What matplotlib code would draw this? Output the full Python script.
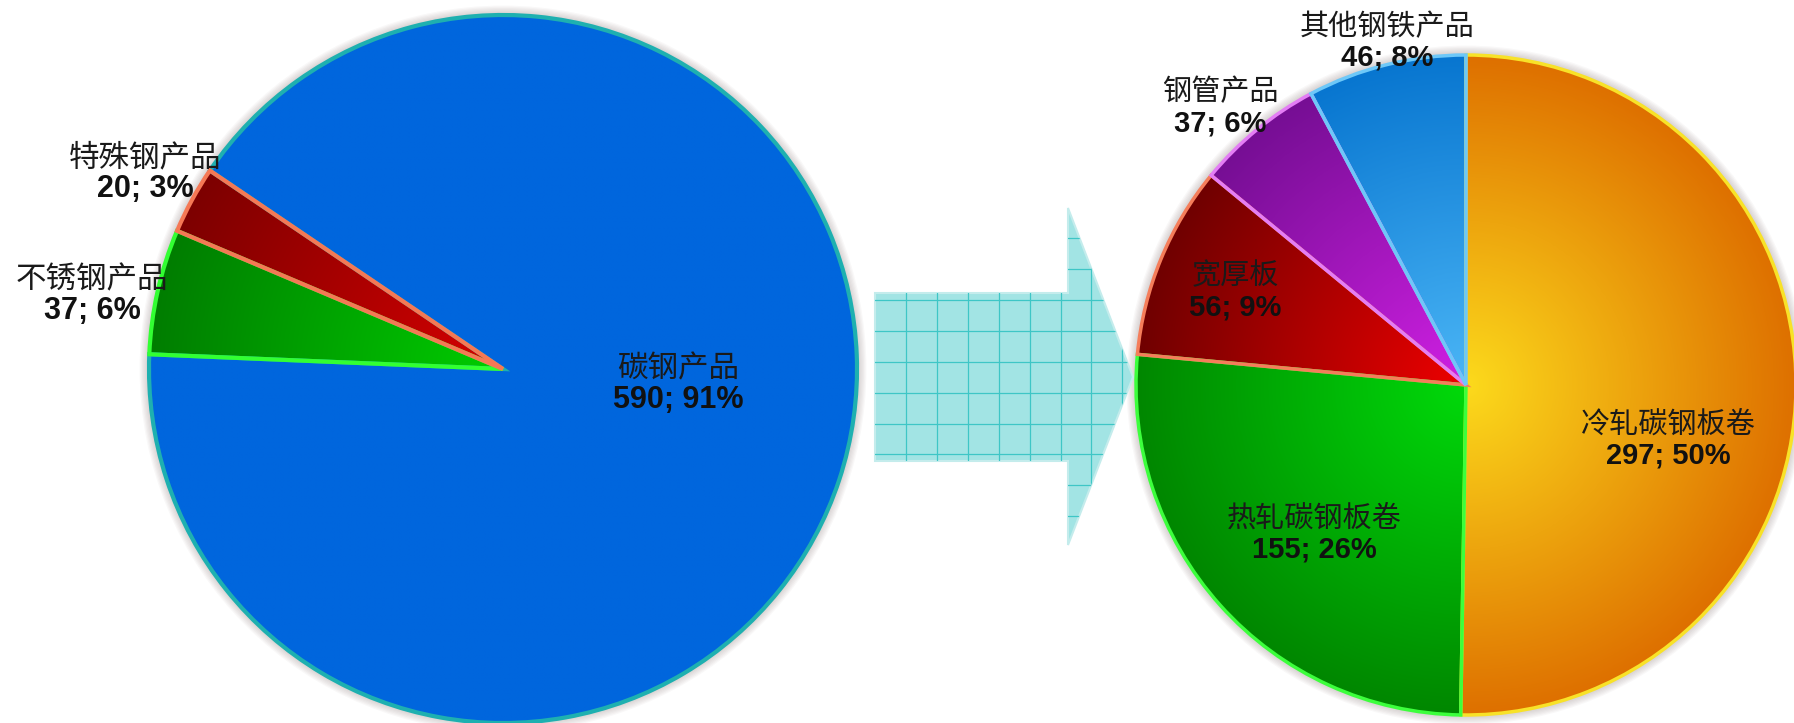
import numpy as np
import matplotlib.pyplot as plt
from matplotlib.colors import LinearSegmentedColormap
from matplotlib.patches import Polygon, Circle

# left pie: steel products overall
left_names = ["碳钢产品", "不锈钢产品", "特殊钢产品"]
left_values = [590, 37, 20]
# right pie: carbon steel products split
right_names = ["冷轧碳钢板卷", "热轧碳钢板卷", "宽厚板", "钢管产品", "其他钢铁产品"]
right_values = [297, 155, 56, 37, 46]

W, H = 1794, 723
fig = plt.figure(figsize=(W / 100, H / 100), dpi=100)
ax = fig.add_axes([0, 0, 1, 1])
ax.set_axis_off()

cjk = ["Noto Sans CJK SC", "DejaVu Sans"]


def py(y):
    # pixel row -> data y
    return H - y


def shadow(cx, cy, r):
    for k in range(8):
        ax.add_patch(Circle((cx, cy), r + 1 + k * 1.2, color="#8a7a7a",
                            alpha=0.05, lw=0, zorder=0.5))


def gradient_pie(values, center, radius, start, inner, outer, edges, lw):
    # clockwise, like the original office chart
    wedges, _ = ax.pie(values, center=center, radius=radius, startangle=start,
                       counterclock=False, colors=outer,
                       wedgeprops=dict(linewidth=lw, joinstyle="miter"))
    cx, cy = center
    n = 300
    yy, xx = np.mgrid[-1:1:n * 1j, -1:1:n * 1j]
    dist = np.clip(np.sqrt(xx ** 2 + yy ** 2), 0, 1)
    for w, c0, c1, ec in zip(wedges, inner, outer, edges):
        cm = LinearSegmentedColormap.from_list("g", [c0, c1])
        im = ax.imshow(dist, cmap=cm, vmin=0, vmax=1, origin="lower",
                       extent=[cx - radius, cx + radius, cy - radius, cy + radius],
                       zorder=1, interpolation="bilinear")
        im.set_clip_path(w)
        w.set_facecolor("none")
        w.set_edgecolor(ec)
        w.set_zorder(3)
    return wedges


def rgb(*c):
    return tuple(v / 255 for v in c)


# ---- left pie
lc = (503, py(369))
lr = 354
shadow(lc[0], lc[1], lr)
gradient_pie(left_values, lc, lr, 145.9,
             inner=[rgb(0, 102, 221), rgb(0, 205, 0), rgb(215, 0, 0)],
             outer=[rgb(0, 102, 221), rgb(0, 125, 0), rgb(125, 0, 0)],
             edges=[rgb(30, 176, 176), rgb(50, 255, 50), rgb(245, 120, 85)],
             lw=3)

# ---- right pie
rc = (1466, py(385))
rr = 330
shadow(rc[0], rc[1], rr)
gradient_pie(right_values, rc, rr, 90,
             inner=[rgb(252, 218, 28), rgb(0, 218, 10), rgb(238, 0, 0),
                    rgb(208, 32, 228), rgb(75, 182, 246)],
             outer=[rgb(222, 112, 0), rgb(0, 135, 0), rgb(112, 0, 0),
                    rgb(118, 14, 148), rgb(8, 118, 208)],
             edges=[rgb(248, 226, 40), rgb(60, 255, 60), rgb(245, 125, 90),
                    rgb(228, 125, 245), rgb(110, 200, 248)],
             lw=2.5)

# ---- arrow
arrow_px = [(875, 293), (1068, 293), (1068, 208), (1133, 377),
            (1068, 545), (1068, 461), (875, 461)]
arrow = Polygon([(x, py(y)) for x, y in arrow_px], closed=True,
                facecolor="#a2e4e4", edgecolor="#c4ecec", lw=1.5, zorder=2)
ax.add_patch(arrow)
for gx in np.arange(906, 1134, 30.9):
    ln, = ax.plot([gx, gx], [py(200), py(550)], color="#3ec6c6", lw=0.9, zorder=2.1)
    ln.set_clip_path(arrow)
for gy in np.arange(300 - 2 * 30.9, 550, 30.9):
    ln, = ax.plot([875, 1140], [py(gy), py(gy)], color="#3ec6c6", lw=0.9, zorder=2.1)
    ln.set_clip_path(arrow)


# ---- labels
def labels(names, values, pos, fs):
    total = sum(values)
    for name, v, (x, y) in zip(names, values, pos):
        ax.text(x, py(y), name, ha="center", va="center", fontsize=fs,
                family=cjk, color="#1a1a1a", zorder=5)
        ax.text(x, py(y + 31), f"{v}; {round(v / total * 100)}%", ha="center",
                va="center", fontsize=fs, family="Liberation Sans",
                fontweight="bold", color="#111111", zorder=5)


left_pos = [(678, 369), (92, 280), (145, 158)]
right_pos = [(1668, 425), (1314, 519), (1235, 276), (1220, 92), (1387, 27)]
labels(left_names, left_values, left_pos, 22)
labels(right_names, right_values, right_pos, 21)

ax.set_xlim(0, W)
ax.set_ylim(0, H)
ax.set_aspect("equal")
fig.savefig("out.png", dpi=100, facecolor="white")
